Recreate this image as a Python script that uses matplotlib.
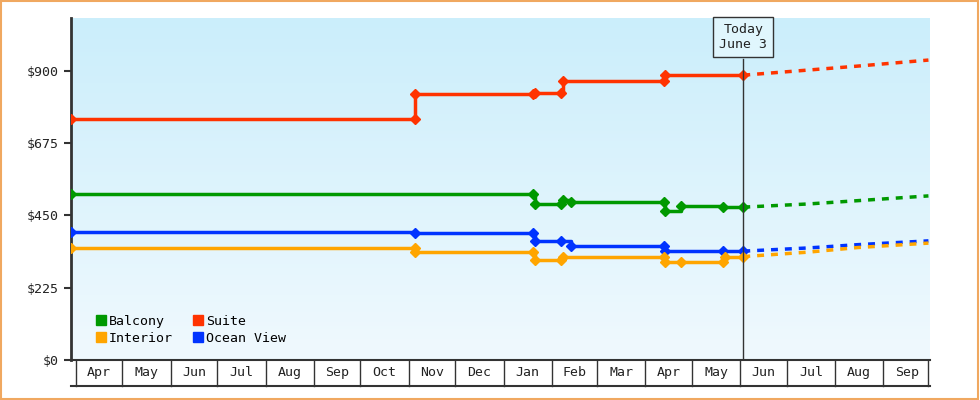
import numpy as np
import matplotlib
matplotlib.use("Agg")
import matplotlib.pyplot as plt
import matplotlib.dates as mdates
from datetime import date
from matplotlib.colors import LinearSegmentedColormap

plt.rcParams['font.family'] = ['DejaVu Sans Mono']

months = ["Apr","May","Jun","Jul","Aug","Sep","Oct","Nov","Dec","Jan","Feb","Mar","Apr","May","Jun","Jul","Aug","Sep"]
month_starts = ["2023-04-01","2023-05-01","2023-06-01","2023-07-01","2023-08-01","2023-09-01","2023-10-01",
                "2023-11-01","2023-12-01","2024-01-01","2024-02-01","2024-03-01","2024-04-01","2024-05-01",
                "2024-06-01","2024-07-01","2024-08-01","2024-09-01","2024-10-01"]
yticks = [0, 225, 450, 675, 900]

suite_dates = ["2023-03-29","2023-11-05","2023-11-05","2024-01-20","2024-01-21","2024-02-07","2024-02-08","2024-04-13","2024-04-14","2024-06-03"]
suite_vals  = [750, 750, 828, 828, 831, 831, 869, 869, 887, 887]
balcony_dates = ["2023-03-29","2024-01-20","2024-01-21","2024-02-07","2024-02-08","2024-02-13","2024-04-13","2024-04-14","2024-04-24","2024-05-21","2024-06-03"]
balcony_vals  = [517, 517, 486, 486, 497, 492, 492, 464, 480, 476, 476]
ocean_dates = ["2023-03-29","2023-11-05","2024-01-20","2024-01-21","2024-02-07","2024-02-13","2024-04-13","2024-04-14","2024-05-21","2024-06-03"]
ocean_vals  = [400, 396, 396, 371, 371, 355, 355, 339, 339, 339]
interior_dates = ["2023-03-29","2023-11-05","2023-11-05","2024-01-20","2024-01-21","2024-02-07","2024-02-08","2024-04-13","2024-04-14","2024-04-24","2024-05-21","2024-05-22","2024-06-03"]
interior_vals  = [349, 349, 336, 336, 311, 311, 321, 321, 305, 305, 305, 320, 322]

fc_dates = ["2024-06-03","2024-07-15","2024-08-15","2024-09-30"]
suite_fc    = [887, 903, 915, 934]
balcony_fc  = [476, 486, 496, 511]
ocean_fc    = [339, 349, 359, 371]
interior_fc = [322, 336, 350, 364]

colors = {"Balcony":"#009900","Suite":"#ff3300","Interior":"#ffa500","Ocean View":"#0033ff"}

def d(lst):
    return [mdates.date2num(date.fromisoformat(s)) for s in lst]

fig = plt.figure(figsize=(9.8,4.0), dpi=100)
fig.patch.set_facecolor("white")
fig.patches.append(plt.Rectangle((0.001,0.002),0.997,0.996,transform=fig.transFigure,fill=False,ec="#f0a860",lw=1.5))
ax = fig.add_axes([71/980, 40/400, 859/980, 342/400])
x0 = d(["2023-03-29"])[0]; x1 = d(["2024-10-01"])[0]
ax.set_xlim(x0, x1); ax.set_ylim(0, 1065)
cmap = LinearSegmentedColormap.from_list("bg", ["#f0f9fe", "#cbeefb"])
ax.imshow(np.linspace(0,1,100).reshape(-1,1), extent=[x0,x1,0,1065], aspect='auto', cmap=cmap, origin='lower', zorder=0)

for name, dd, vv, fc in [("Suite",suite_dates,suite_vals,suite_fc),("Balcony",balcony_dates,balcony_vals,balcony_fc),
                         ("Ocean View",ocean_dates,ocean_vals,ocean_fc),("Interior",interior_dates,interior_vals,interior_fc)]:
    c = colors[name]
    ax.plot(d(dd), vv, drawstyle="steps-post", color=c, lw=2.5, zorder=3)
    ax.plot(d(dd), vv, ls="none", marker="D", ms=5, color=c, zorder=4)
    ax.plot(d(fc_dates), fc, ls=(0,(2,2)), color=c, lw=2.5, zorder=3)

today = d(["2024-06-03"])[0]
ax.plot([today,today],[0,938], color="#333333", lw=1, zorder=5)
ax.text(today, 1005, "Today\nJune 3", ha="center", va="center", fontsize=9.5, color="#222222", zorder=6,
        bbox=dict(boxstyle="square,pad=0.45", fc="#e0f6fd", ec="#333333", lw=1))

ax.set_yticks(yticks)
ax.set_yticklabels([f"${v}" for v in yticks], fontsize=9.5, color="#222222")
ax.tick_params(axis='y', length=5, width=1.5, color="#333333")
ax.set_xticks([])
for s in ["top","right","bottom"]:
    ax.spines[s].set_visible(False)
ax.spines["left"].set_linewidth(2); ax.spines["left"].set_color("#333333")

ms = d(month_starts)
tr = ax.get_xaxis_transform()
ax.plot([x0, x1], [0, 0], transform=tr, color="#333333", lw=1.5, clip_on=False)
ax.plot([x0, x1], [-0.075, -0.075], transform=tr, color="#333333", lw=1.5, clip_on=False)
for m in ms[:-1]:
    ax.plot([m, m], [0, -0.075], transform=tr, color="#333333", lw=1, clip_on=False)
ax.plot([ms[-1]-1, ms[-1]-1], [0, -0.075], transform=tr, color="#333333", lw=1, clip_on=False)
for i, lab in enumerate(months):
    ax.text((ms[i]+ms[i+1])/2, -0.037, lab, transform=tr, ha="center", va="center", fontsize=9.5, color="#222222")

from matplotlib.patches import Patch
handles = [Patch(color=colors[k]) for k in ["Balcony","Interior","Suite","Ocean View"]]
ax.legend(handles, ["Balcony","Interior","Suite","Ocean View"], ncol=2, loc="lower left", frameon=False,
          fontsize=9.5, handlelength=0.8, handleheight=0.8, handletextpad=0.2, columnspacing=1.5,
          labelspacing=0.3, bbox_to_anchor=(0.015, 0.01))

fig.savefig("out.png", dpi=100)
